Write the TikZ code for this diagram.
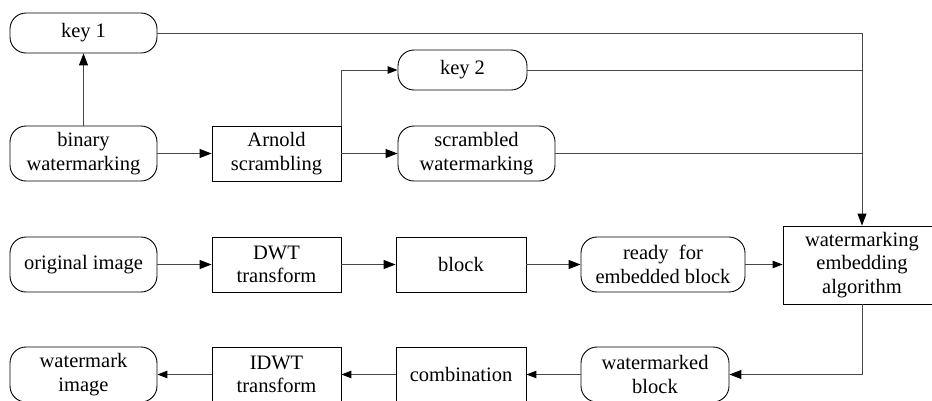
\documentclass[tikz,border=0pt]{standalone}
\usepackage{fontspec}
\setmainfont{Liberation Serif}
\usetikzlibrary{arrows.meta}

\tikzset{
  base/.style={draw=black, line width=0.9pt, align=center, inner sep=0pt,
    font=\fontsize{20.5}{23.5}\selectfont},
  roundbox/.style={base, rounded corners=16pt},
  rectbox/.style={base},
  link/.style={draw=black!72, line width=1pt},
  arr/.style={link, -{Triangle[length=12pt,width=9pt,color=black]}},
  arrs/.style={link, -{Triangle[length=10pt,width=7.5pt,color=black]}},
}

\begin{document}
\begin{tikzpicture}[x=1pt, y=-1pt]
  \useasboundingbox (0,0) rectangle (932,400);
  \clip (0,0) rectangle (932,400);

  % upper part: watermark preparation
  \node[roundbox, minimum width=147pt, minimum height=40pt] (key1) at (83.5,33) {key 1};
  \node[roundbox, minimum width=147pt, minimum height=55pt] (binwm) at (83.5,153.5) {binary\\watermarking};
  \node[rectbox, minimum width=129pt, minimum height=55pt] (arnold) at (276.5,153.5) {Arnold\\scrambling};
  \node[roundbox, minimum width=129pt, minimum height=40pt] (key2) at (462.5,70) {key 2};
  \node[roundbox, minimum width=157pt, minimum height=55pt] (scr) at (476.5,153.5) {scrambled\\watermarking};

  % middle row: host image processing
  \node[roundbox, minimum width=147pt, minimum height=55pt] (orig) at (83.5,264.5) {original image};
  \node[rectbox, minimum width=129pt, minimum height=55pt] (dwt) at (276.5,264.5) {DWT\\transform};
  \node[rectbox, minimum width=130pt, minimum height=55pt] (blk) at (461,264.5) {block};
  \node[roundbox, minimum width=164pt, minimum height=55pt] (ready) at (663,264.5) {ready~~for\\embedded block};
  \node[rectbox, minimum width=158pt, minimum height=78pt] (alg) at (862,265) {watermarking\\embedding\\algorithm};

  % bottom row: reconstruction
  \node[roundbox, minimum width=147pt, minimum height=55pt] (wmimg) at (83.5,374.5) {watermark\\image};
  \node[rectbox, minimum width=129pt, minimum height=55pt] (idwt) at (276.5,374.5) {IDWT\\transform};
  \node[rectbox, minimum width=130pt, minimum height=55pt] (comb) at (461,374.5) {combination};
  \node[roundbox, minimum width=148pt, minimum height=55pt] (wmblk) at (655,374.5) {watermarked\\block};

  % connectors
  \draw[arr] (binwm.north) -- (key1.south);
  \draw[arr] (binwm.east) -- (arnold.west);
  \draw[arr] (arnold.east) -- (scr.west);
  \draw[arrs] (arnold.north east) |- (key2.west);

  \draw[arr] (key1.east) -- (alg.north |- key1.east) -- (alg.north);
  \draw[link] (key2.east) -- (alg.north |- key2.east);
  \draw[link] (scr.east) -- (alg.north |- scr.east);

  \draw[arr] (orig.east) -- (dwt.west);
  \draw[arr] (dwt.east) -- (blk.west);
  \draw[arr] (blk.east) -- (ready.west);
  \draw[arrs] (ready.east) -- (alg.west |- ready.east);

  \draw[arr] (alg.south) |- (wmblk.east);
  \draw[arrs] (wmblk.west) -- (comb.east);
  \draw[arrs] (comb.west) -- (idwt.east);
  \draw[arrs] (idwt.west) -- (wmimg.east);
\end{tikzpicture}
\end{document}
